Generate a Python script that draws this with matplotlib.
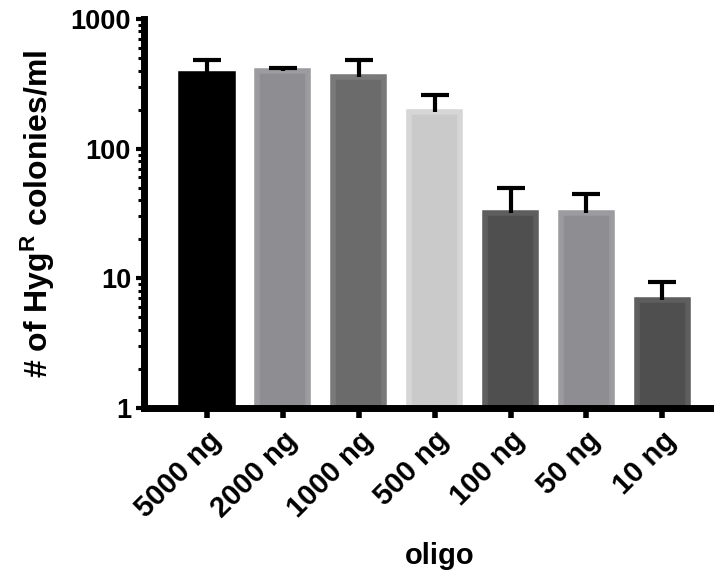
import matplotlib
matplotlib.use("Agg")
import matplotlib.pyplot as plt
from matplotlib.ticker import FixedLocator, FixedFormatter, LogLocator, NullFormatter

plt.rcParams['font.family'] = ['Liberation Sans', 'DejaVu Sans']
plt.rcParams['font.weight'] = 'bold'
plt.rcParams['mathtext.fontset'] = 'custom'
plt.rcParams['mathtext.rm'] = 'Liberation Sans:bold'
plt.rcParams['mathtext.bf'] = 'Liberation Sans:bold'
plt.rcParams['mathtext.it'] = 'Liberation Sans:bold'

categories = ["5000 ng", "2000 ng", "1000 ng", "500 ng", "100 ng", "50 ng", "10 ng"]
means = [376, 397, 356, 191, 31.9, 31.9, 6.8]
upper_err = [106, 21, 126, 68, 17.8, 12.8, 2.56]
face_colors = ["#000000", "#8e8e92", "#6b6b6b", "#cacaca", "#4f4f4f", "#8e8e92", "#4f4f4f"]
edge_colors = ["#000000", "#9c9ca0", "#797979", "#d6d6d6", "#5e5e5e", "#9c9ca0", "#5e5e5e"]
y_ticks = [1, 10, 100, 1000]
y_tick_labels = ["1", "10", "100", "1000"]

fig = plt.figure(figsize=(7.14, 5.73), dpi=100)
ax = fig.add_axes([0.201, 0.288, 0.799, 0.679])

x = list(range(len(categories)))
ax.bar(x, means, width=0.675, color=face_colors, edgecolor=edge_colors, linewidth=4, zorder=2)
eb = ax.errorbar(x, means, yerr=[[0]*len(means), upper_err], fmt='none', ecolor='black',
                 elinewidth=3, capsize=10, capthick=3, zorder=3)
# hide the lower caps (only upper error shown)
caplines = eb[1]
if len(caplines) == 2:
    caplines[0].set_visible(False)

ax.set_yscale('log')
ax.set_ylim(1, 1000)
ax.set_xlim(-0.835, 6.68)
ax.yaxis.set_major_locator(FixedLocator(y_ticks))
ax.yaxis.set_major_formatter(FixedFormatter(y_tick_labels))
ax.yaxis.set_minor_locator(LogLocator(base=10, subs=range(2, 10)))
ax.yaxis.set_minor_formatter(NullFormatter())

ax.set_xticks(x)
ax.set_xticklabels(categories, rotation=45, ha='right', rotation_mode='anchor', fontsize=21, fontweight='bold')
for lab in ax.get_yticklabels():
    lab.set_fontsize(19.5)
    lab.set_fontweight('bold')

for s in ['top', 'right']:
    ax.spines[s].set_visible(False)
for s in ['left', 'bottom']:
    ax.spines[s].set_linewidth(5)

ax.tick_params(axis='y', which='major', length=6, width=3, pad=3)
ax.tick_params(axis='y', which='minor', length=4, width=2.2)
ax.tick_params(axis='x', which='major', length=7, width=4, pad=6)

ax.set_ylabel(r"# of Hyg$^{\mathrm{R}}$ colonies/ml", fontsize=23, fontweight='bold', labelpad=10)
ax.set_xlabel("oligo", fontsize=21, fontweight='bold', va='baseline')
ax.xaxis.set_label_coords(0.52, -0.401)

fig.savefig("out.png", dpi=100)
